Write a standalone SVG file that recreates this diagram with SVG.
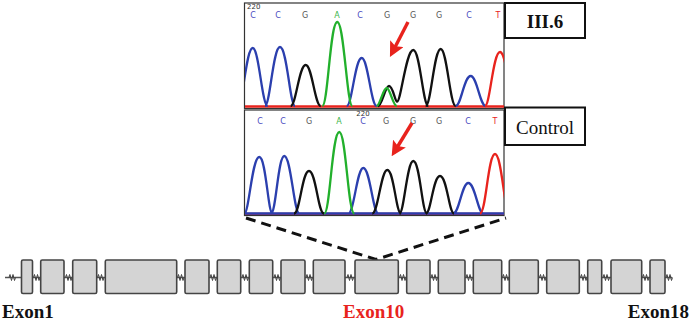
<svg xmlns="http://www.w3.org/2000/svg" width="690" height="329" viewBox="0 0 690 329">
<style>
.panel{fill:#fff;stroke:#333;stroke-width:1.2}
.pk{fill:none;stroke-width:2.3;stroke-linejoin:round}
.b{stroke:#2b3fae}.k{stroke:#111}.g{stroke:#22b02c}.r{stroke:#e8231d}
.base{font-family:"DejaVu Sans",sans-serif;font-size:8px;text-anchor:middle}
.lb{fill:#fff;stroke:#111;stroke-width:2}
.lab{font-family:"Liberation Serif",serif;font-size:19px;text-anchor:middle;fill:#111}
.exon{fill:#d4d4d4;stroke:#444;stroke-width:1.6}
.ex{font-family:"Liberation Serif",serif;font-size:19px;font-weight:bold}
.arrow{stroke:#e8231d;stroke-width:3.4;fill:none}
.dash{stroke:#111;stroke-width:3;stroke-dasharray:10 6;fill:none}
.zig{fill:none;stroke:#444;stroke-width:1}
</style>
<defs>
<clipPath id="c1"><rect x="245" y="3" width="259" height="105"/></clipPath>
<clipPath id="c2"><rect x="245" y="110" width="259" height="105"/></clipPath>
<marker id="ah" viewBox="0 0 10 10" refX="7" refY="5" markerWidth="4.4" markerHeight="4.4" orient="auto"><path d="M0,0 L10,5 L0,10 L2,5 z" fill="#e8231d"/></marker>
</defs>

<g id="chromatogram-III6">
<rect class="panel" x="244.5" y="3" width="259.5" height="105.5"/>
<text x="247" y="9" style="font-family:'DejaVu Sans',sans-serif;font-size:7px;fill:#333">220</text>
<g class="base">
<text x="253" y="18" fill="#4a4ac0">C</text><text x="278" y="18" fill="#4a4ac0">C</text><text x="305" y="18" fill="#555">G</text><text x="337" y="18" fill="#3bb54a">A</text><text x="360" y="18" fill="#4a4ac0">C</text><text x="387" y="18" fill="#555">G</text><text x="413" y="18" fill="#555">G</text><text x="439" y="18" fill="#555">G</text><text x="469" y="18" fill="#4a4ac0">C</text><text x="498" y="18" fill="#e8231d">T</text>
</g>
<g clip-path="url(#c1)">
<path class="pk r" d="M245,106.5 L504,106.5"/>
<path class="pk b" d="M237.7,106 C243,106 246,48 252.7,48 C259,48 262,106 267.7,106 M265,106 C270,106 273,47 280,47 C287,47 290,106 295,106 M346.7,106 C352,106 355,58 361.7,58 C368,58 371,106 376.7,106 M455.7,106 C461,106 464,76 470.7,76 C477,76 480,106 485.7,106"/>
<path class="pk k" d="M290.7,106 C296,106 299,65 305.7,65 C312,65 315,106 320.7,106 M378,106 C382,106 385,86 389,86 C393,86 395,101.7 397,101.7 C401,101.7 406,50 413.3,50 C420,50 423,106 428.3,106 M425.7,106 C431,106 434,49 440.7,49 C447,49 450,106 455.7,106"/>
<path class="pk g" d="M322.3,106 C328,106 330,22 337.3,22 C344,22 347,106 352.3,106 M376.7,106 C380,106 383,88 386.7,88 C390,88 393,106 396.7,106"/>
<path class="pk r" d="M485,106 C490,106 493,52 500,52 C507,52 510,106 515,106"/>
</g>
</g>

<g id="chromatogram-control">
<rect class="panel" x="244.5" y="110" width="259.5" height="105.5"/>
<text x="363" y="116" style="font-family:'DejaVu Sans',sans-serif;font-size:7px;fill:#333;text-anchor:middle">220</text>
<g class="base">
<text x="260" y="124" fill="#4a4ac0">C</text><text x="283" y="124" fill="#4a4ac0">C</text><text x="309" y="124" fill="#555">G</text><text x="339" y="124" fill="#3bb54a">A</text><text x="363" y="124" fill="#4a4ac0">C</text><text x="386" y="124" fill="#555">G</text><text x="413" y="124" fill="#555">G</text><text x="439" y="124" fill="#555">G</text><text x="468" y="124" fill="#4a4ac0">C</text><text x="495" y="124" fill="#e8231d">T</text>
</g>
<g clip-path="url(#c2)">
<path class="pk r" d="M245,214 L504,214"/>
<path class="pk b" d="M244.3,213.5 C249,213.5 252,157 259.3,157 C266,157 268,213.5 272.5,213.5 M271,213.5 C276,213.5 278,156 284.3,156 C291,156 294,213.5 299.3,213.5 M348.3,213.5 C354,213.5 357,168 363.3,168 C370,168 373,213.5 378.3,213.5 M453.3,213.5 C459,213.5 462,183 468.3,183 C475,183 478,213.5 483.3,213.5 M244,213.5 L504,213.5"/>
<path class="pk k" d="M294,213.5 C300,213.5 302,171 309,171 C316,171 318,213.5 324,213.5 M372.3,213.5 C378,213.5 381,170 387.3,170 C394,170 396,213.5 401,213.5 M399.5,213.5 C404,213.5 407,161 413.3,161 C420,161 422,213.5 427,213.5 M426,213.5 C431,213.5 433,176 440,176 C447,176 449,213.5 454,213.5"/>
<path class="pk g" d="M324.3,213.5 C330,213.5 332,132 339.3,132 C346,132 348,213.5 354.3,213.5"/>
<path class="pk r" d="M480,213.5 C486,213.5 488,154 495,154 C502,154 504,213.5 510,213.5"/>
</g>
</g>

<g id="label-III6">
<rect class="lb" x="505" y="3" width="80" height="35"/>
<text class="lab" x="545" y="27.5" font-weight="bold">III.6</text>
</g>
<g id="label-control">
<rect class="lb" x="505" y="107.5" width="80" height="37.5"/>
<text class="lab" x="545" y="133.5">Control</text>
</g>

<g id="connectors">
<line class="arrow" x1="408" y1="22" x2="392" y2="53" marker-end="url(#ah)"/>
<line class="arrow" x1="412" y1="123" x2="394" y2="152.5" marker-end="url(#ah)"/>
<path class="dash" d="M246,218 L376,259.5 L506,218"/>
</g>

<g id="gene">
<line x1="5" y1="277.5" x2="672" y2="277.5" stroke="#555" stroke-width="1.5"/>
<g class="zig">
<path d="M9,277.5 l1,-3 l1.5,6 l1.5,-6 l1.5,6 l1,-3"/>
<path d="M33.5,277.5 l1,-3 l1.5,6 l1.5,-6 l1.5,6 l1,-3"/>
<path d="M65.5,277.5 l1,-3 l1.5,6 l1.5,-6 l1.5,6 l1,-3"/>
<path d="M97.5,277.5 l1,-3 l1.5,6 l1.5,-6 l1.5,6 l1,-3"/>
<path d="M177.5,277.5 l1,-3 l1.5,6 l1.5,-6 l1.5,6 l1,-3"/>
<path d="M210,277.5 l1,-3 l1.5,6 l1.5,-6 l1.5,6 l1,-3"/>
<path d="M242,277.5 l1,-3 l1.5,6 l1.5,-6 l1.5,6 l1,-3"/>
<path d="M274,277.5 l1,-3 l1.5,6 l1.5,-6 l1.5,6 l1,-3"/>
<path d="M306,277.5 l1,-3 l1.5,6 l1.5,-6 l1.5,6 l1,-3"/>
<path d="M347,277.5 l1,-3 l1.5,6 l1.5,-6 l1.5,6 l1,-3"/>
<path d="M399.5,277.5 l1,-3 l1.5,6 l1.5,-6 l1.5,6 l1,-3"/>
<path d="M431,277.5 l1,-3 l1.5,6 l1.5,-6 l1.5,6 l1,-3"/>
<path d="M466,277.5 l1,-3 l1.5,6 l1.5,-6 l1.5,6 l1,-3"/>
<path d="M502.5,277.5 l1,-3 l1.5,6 l1.5,-6 l1.5,6 l1,-3"/>
<path d="M539.5,277.5 l1,-3 l1.5,6 l1.5,-6 l1.5,6 l1,-3"/>
<path d="M580.5,277.5 l1,-3 l1.5,6 l1.5,-6 l1.5,6 l1,-3"/>
<path d="M603,277.5 l1,-3 l1.5,6 l1.5,-6 l1.5,6 l1,-3"/>
<path d="M642.5,277.5 l1,-3 l1.5,6 l1.5,-6 l1.5,6 l1,-3"/>
<path d="M666,277.5 l1,-3 l1.5,6 l1.5,-6 l1.5,6 l1,-3"/>
</g>
<g id="exon1"><rect class="exon" x="21.5" y="260" width="11" height="33.5" rx="1.5"/></g>
<g id="exon2"><rect class="exon" x="40.7" y="260" width="23.3" height="33.5" rx="1.5"/></g>
<g id="exon3"><rect class="exon" x="72.7" y="260" width="24" height="33.5" rx="1.5"/></g>
<g id="exon4"><rect class="exon" x="105.3" y="260" width="71.4" height="33.5" rx="1.5"/></g>
<g id="exon5"><rect class="exon" x="185" y="260" width="24" height="33.5" rx="1.5"/></g>
<g id="exon6"><rect class="exon" x="217.3" y="260" width="23.4" height="33.5" rx="1.5"/></g>
<g id="exon7"><rect class="exon" x="249.3" y="260" width="23.4" height="33.5" rx="1.5"/></g>
<g id="exon8"><rect class="exon" x="281" y="260" width="24" height="33.5" rx="1.5"/></g>
<g id="exon9"><rect class="exon" x="313.3" y="260" width="31.7" height="33.5" rx="1.5"/></g>
<g id="exon10"><rect class="exon" x="355" y="260" width="43.3" height="33.5" rx="1.5"/></g>
<g id="exon11"><rect class="exon" x="406.7" y="260" width="23.3" height="33.5" rx="1.5"/></g>
<g id="exon12"><rect class="exon" x="438.3" y="260" width="26.7" height="33.5" rx="1.5"/></g>
<g id="exon13"><rect class="exon" x="473.3" y="260" width="28.4" height="33.5" rx="1.5"/></g>
<g id="exon14"><rect class="exon" x="509.3" y="260" width="29" height="33.5" rx="1.5"/></g>
<g id="exon15"><rect class="exon" x="546.7" y="260" width="32.6" height="33.5" rx="1.5"/></g>
<g id="exon16"><rect class="exon" x="587.7" y="260" width="14" height="33.5" rx="1.5"/></g>
<g id="exon17"><rect class="exon" x="611" y="260" width="30.7" height="33.5" rx="1.5"/></g>
<g id="exon18"><rect class="exon" x="650" y="260" width="15" height="33.5" rx="1.5"/></g>
</g>

<g id="exon-labels">
<text class="ex" x="2" y="318" fill="#111">Exon1</text>
<text class="ex" x="343" y="318" fill="#e8231d">Exon10</text>
<text class="ex" x="689" y="318" fill="#111" text-anchor="end">Exon18</text>
</g>
</svg>
